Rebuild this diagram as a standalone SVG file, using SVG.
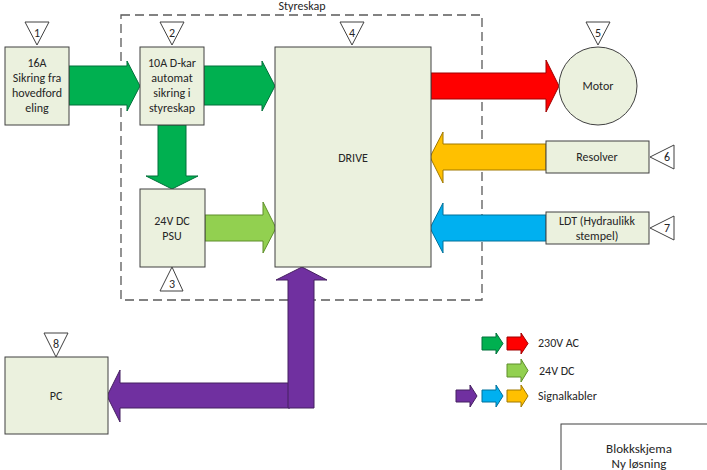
<svg xmlns="http://www.w3.org/2000/svg" width="707" height="470" viewBox="0 0 707 470">
<style>
.box{fill:#EBF1DE;stroke:#404040;stroke-width:1}
.tri{fill:#fff;stroke:#404040;stroke-width:1}
.t{font-family:Carlito,Lato,"Liberation Sans",sans-serif;font-size:12px;fill:#262626;text-anchor:middle}
.n{font-family:Carlito,Lato,"Liberation Sans",sans-serif;font-size:12px;fill:#262626;text-anchor:middle}
.lg{font-family:Carlito,Lato,"Liberation Sans",sans-serif;font-size:12px;fill:#262626}
.g{fill:#00B050;stroke:#00703A;stroke-width:1}
.r{fill:#FF0000;stroke:#A00000;stroke-width:1}
.lgn{fill:#92D050;stroke:#5E8E2A;stroke-width:1}
.o{fill:#FFC000;stroke:#A07800;stroke-width:1}
.b{fill:#00B0F0;stroke:#00709A;stroke-width:1}
.p{fill:#7030A0;stroke:#452060;stroke-width:1}
</style>
<rect width="707" height="470" fill="#fff"/>
<g id="styreskap">
<rect x="121" y="15" width="361" height="285" fill="none" stroke="#595959" stroke-width="1.3" stroke-dasharray="9,5"/>
<text class="t" x="302" y="10">Styreskap</text>
</g>
<g id="connectors">
<polygon class="g" points="69,66 127,66 127,61 140,86 127,111 127,105 69,105"/>
<polygon class="g" points="204,66 262,66 262,61 275,86 262,111 262,105 204,105"/>
<polygon class="r" points="431,73 546,73 546,60 559,86 546,112 546,99 431,99"/>
<polygon class="g" points="158,125 186,125 186,176 198,176 172,189 146,176 158,176"/>
<polygon class="lgn" points="205,215 263,215 263,202 276,228 263,253 263,241 205,241"/>
<polygon class="o" points="546,144 443,144 443,132 430,157 443,183 443,170 546,170"/>
<polygon class="b" points="546,215 443,215 443,203 430,228 443,253 443,241 546,241"/>
<polygon class="p" points="290,383 120,383 120,370 107,396 120,422 120,408 290,408"/>
<polygon class="p" points="288,408 288,280 276,280 302,267 327,280 314,280 314,408"/>
</g>
<g id="n1">
<rect class="box" x="5" y="47" width="64" height="78"/>
<text class="t" x="37" y="67">16A</text>
<text class="t" x="37" y="82">Sikring fra</text>
<text class="t" x="37" y="97">hovedford</text>
<text class="t" x="37" y="112">eling</text>
<polygon class="tri" points="25,22 49,22 37,45"/>
<text class="n" x="37" y="37">1</text>
</g>
<g id="n2">
<rect class="box" x="140" y="47" width="64" height="78"/>
<text class="t" x="172" y="67">10A D-kar</text>
<text class="t" x="172" y="82">automat</text>
<text class="t" x="172" y="97">sikring i</text>
<text class="t" x="172" y="112">styreskap</text>
<polygon class="tri" points="160,22 184,22 172,45"/>
<text class="n" x="172" y="37">2</text>
</g>
<g id="n3">
<rect class="box" x="140" y="189" width="65" height="78"/>
<text class="t" x="172" y="225">24V DC</text>
<text class="t" x="172" y="240">PSU</text>
<polygon class="tri" points="172,267 183,291 160,291"/>
<text class="n" x="172" y="288">3</text>
</g>
<g id="n4">
<rect class="box" x="275" y="47" width="156" height="220"/>
<text class="t" x="353" y="162">DRIVE</text>
<polygon class="tri" points="340,22 364,22 352,45"/>
<text class="n" x="352" y="37">4</text>
</g>
<g id="n5">
<circle class="box" cx="598" cy="86" r="39"/>
<text class="t" x="598" y="90">Motor</text>
<polygon class="tri" points="586,22 610,22 598,45"/>
<text class="n" x="598" y="37">5</text>
</g>
<g id="n6">
<rect class="box" x="546" y="141" width="103" height="32"/>
<text class="t" x="597" y="161">Resolver</text>
<polygon class="tri" points="650,157 674,145 674,169"/>
<text class="n" x="667" y="161">6</text>
</g>
<g id="n7">
<rect class="box" x="546" y="212" width="103" height="32"/>
<text class="t" x="597" y="225">LDT (Hydraulikk</text>
<text class="t" x="597" y="240">stempel)</text>
<polygon class="tri" points="650,228 674,216 674,240"/>
<text class="n" x="667" y="232">7</text>
</g>
<g id="n8">
<rect class="box" x="5" y="357" width="103" height="77"/>
<text class="t" x="56" y="400">PC</text>
<polygon class="tri" points="44,333 68,333 56,357"/>
<text class="n" x="56" y="348">8</text>
</g>
<g id="legend">
<polygon class="g" points="482,337 496,337 496,333 503,343.5 496,354 496,350 482,350"/>
<polygon class="r" points="507,337 521,337 521,333 528,343.5 521,354 521,350 507,350"/>
<text class="lg" x="538" y="347">230V AC</text>
<polygon class="lgn" points="507,364 521,364 521,359 528,370.5 521,382 521,377 507,377"/>
<text class="lg" x="539" y="375">24V DC</text>
<polygon class="p" points="456,390 470,390 470,385 477,396 470,407 470,402 456,402"/>
<polygon class="b" points="482,390 496,390 496,385 503,396 496,407 496,402 482,402"/>
<polygon class="o" points="507,390 521,390 521,385 528,396 521,407 521,402 507,402"/>
<text class="lg" x="538" y="400">Signalkabler</text>
</g>
<g id="title">
<rect x="561" y="424" width="160" height="60" fill="#fff" stroke="#404040" stroke-width="1"/>
<text class="t" x="639" y="453" style="font-size:13px">Blokkskjema</text>
<text class="t" x="639" y="468" style="font-size:13px">Ny løsning</text>
</g>
</svg>
